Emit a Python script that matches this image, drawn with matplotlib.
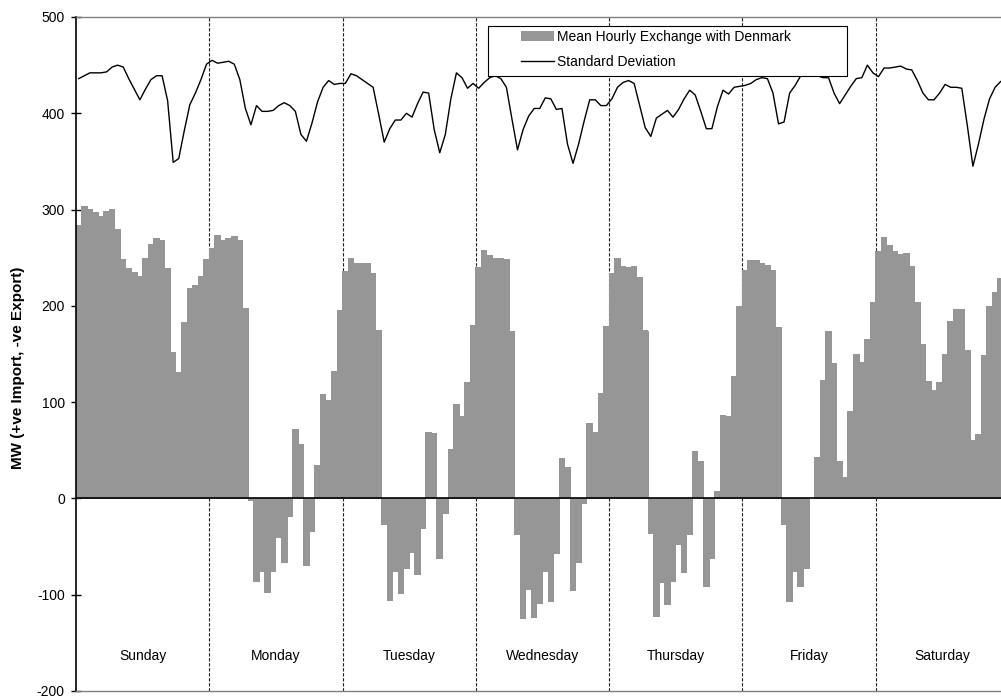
import numpy as np
import matplotlib.pyplot as plt
from matplotlib.patches import Rectangle

plt.rcParams['font.family'] = ['Liberation Sans', 'DejaVu Sans']
plt.rcParams['axes.unicode_minus'] = False

# day names shown under the bars
days = ["Sunday", "Monday", "Tuesday", "Wednesday", "Thursday", "Friday", "Saturday"]

# mean hourly exchange (MW), 24 values per day
mean_sun = [283, 303, 300, 297, 293, 298, 300, 279, 248, 239, 235, 230, 249, 264, 270, 268, 239, 152, 131, 183, 218, 221, 231, 248]
mean_mon = [260, 273, 268, 270, 272, 268, 197, -2, -86, -76, -98, -76, -41, -67, -19, 72, 56, -70, -34, 34, 108, 102, 132, 195]
mean_tue = [236, 249, 244, 244, 244, 234, 174, -27, -106, -76, -99, -73, -56, -79, -31, 68, 67, -62, -16, 51, 98, 85, 120, 180]
mean_wed = [240, 257, 252, 249, 249, 248, 173, -37, -125, -95, -124, -109, -76, -107, -57, 41, 32, -96, -67, -5, 78, 68, 109, 179]
mean_thu = [234, 249, 241, 240, 241, 229, 174, -36, -123, -87, -110, -86, -48, -77, -37, 49, 38, -91, -62, 7, 86, 85, 127, 199]
mean_fri = [237, 247, 247, 244, 242, 237, 178, -27, -107, -76, -91, -73, 0, 42, 122, 173, 140, 38, 22, 90, 150, 141, 165, 203]
mean_sat = [256, 271, 263, 256, 253, 254, 241, 203, 160, 121, 112, 120, 150, 184, 196, 196, 154, 60, 66, 148, 199, 214, 228, 240]

# standard deviation, 24 values per day
sd_sun = [436, 439, 442, 442, 442, 443, 448, 450, 448, 436, 425, 414, 425, 435, 439, 439, 413, 349, 353, 382, 409, 421, 435, 451]
sd_mon = [455, 452, 453, 454, 451, 435, 405, 388, 408, 402, 402, 403, 408, 411, 408, 402, 378, 371, 390, 412, 427, 434, 430, 431]
sd_tue = [431, 441, 439, 435, 431, 427, 399, 370, 384, 393, 393, 400, 396, 410, 422, 421, 383, 359, 378, 415, 442, 437, 426, 431]
sd_wed = [426, 432, 437, 439, 436, 427, 394, 362, 383, 397, 405, 405, 416, 415, 404, 405, 368, 348, 368, 392, 414, 414, 408, 408]
sd_thu = [415, 427, 432, 434, 431, 408, 385, 376, 395, 399, 403, 396, 404, 415, 424, 419, 402, 384, 384, 407, 424, 420, 427, 428]
sd_fri = [429, 431, 435, 437, 436, 421, 389, 391, 421, 429, 439, 446, 450, 439, 437, 437, 421, 410, 419, 428, 436, 437, 450, 442]
sd_sat = [438, 447, 447, 448, 449, 446, 445, 434, 421, 414, 414, 421, 430, 427, 427, 426, 387, 345, 368, 394, 415, 427, 433, 436]

mean = np.array(mean_sun + mean_mon + mean_tue + mean_wed + mean_thu + mean_fri + mean_sat)
sd = np.array(sd_sun + sd_mon + sd_tue + sd_wed + sd_thu + sd_fri + sd_sat)
hours = np.arange(len(mean))

fig = plt.figure(figsize=(10.01, 6.98), dpi=100)
# plot area runs slightly past the right edge, like the original
ax = fig.add_axes([76 / 1001, 7 / 698, 933 / 1001, 674 / 698])

bars = ax.bar(hours, mean, width=1.0, color="#969696", linewidth=0,
              antialiased=False, label="Mean Hourly Exchange with Denmark", zorder=2)
for b in bars:
    b.set_snap(False)
line, = ax.plot(hours, sd, color="black", lw=1.0, label="Standard Deviation", zorder=3)

ax.axhline(0, color="black", lw=1.2, zorder=3)
for k in range(1, 7):
    ax.axvline(24 * k - 0.5, color="#222222", lw=0.8, linestyle=(0, (3, 1.5)), zorder=1)
for k, d in enumerate(days):
    ax.text(24 * k + 11.5, -164, d, ha="center", va="center", fontsize=10)

ax.set_xlim(-0.5, 167.5)
ax.set_ylim(-200, 500)
ax.set_yticks(np.arange(-200, 501, 100))
ax.set_xticks([])
ax.tick_params(axis="y", direction="inout", length=7.2, width=1, labelsize=10, pad=4.5)

ax.spines["left"].set_color("black")
ax.spines["left"].set_linewidth(1.2)
for s in ["top", "bottom"]:
    ax.spines[s].set_color("#808080")
    ax.spines[s].set_linewidth(1.0)
ax.spines["right"].set_visible(False)

ax.set_ylabel("MW (+ve Import, -ve Export)", fontsize=11, fontweight="bold")
ax.yaxis.set_label_coords(-0.055, 0.479)

# legend box drawn by hand so its padding can match
frame = Rectangle((488 / 1001, 1 - 76 / 698), 359 / 1001, 50 / 698,
                  transform=fig.transFigure, facecolor="white",
                  edgecolor="black", lw=0.8, zorder=4)
ax.add_artist(frame)
frame.set_clip_on(False)
leg = ax.legend([bars, line], ["Mean Hourly Exchange with Denmark", "Standard Deviation"],
                loc="upper left", bbox_to_anchor=(521 / 1001, 1 - 30 / 698),
                bbox_transform=fig.transFigure, frameon=False, fontsize=10,
                borderpad=0, borderaxespad=0, handlelength=2.37,
                handletextpad=0.2, labelspacing=0.8)
leg.set_zorder(5)

fig.savefig("out.png", dpi=100)
